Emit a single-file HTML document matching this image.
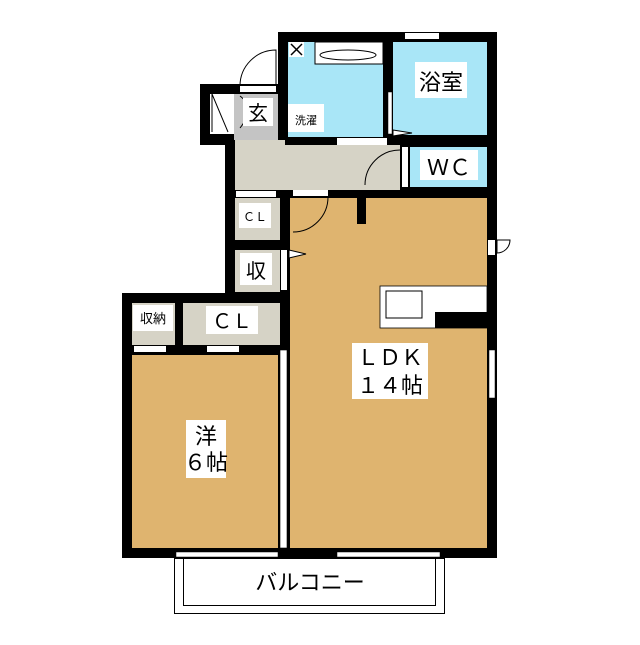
<!DOCTYPE html>
<html><head><meta charset="utf-8"><style>
html,body{margin:0;padding:0;background:#fff}
svg text{font-family:"Liberation Sans","Noto Sans CJK JP",sans-serif}
</style></head><body>
<svg width="640" height="640" viewBox="0 0 640 640" xmlns="http://www.w3.org/2000/svg">
<rect width="640" height="640" fill="#fff"/>
<!-- black wall masses -->
<rect x="278" y="32" width="219" height="113" fill="#000"/>
<rect x="200" y="84" width="80" height="61" fill="#000"/>
<rect x="225" y="138" width="272" height="420" fill="#000"/>
<rect x="122" y="293" width="168" height="265" fill="#000"/>
<rect x="225" y="138" width="10" height="162" fill="#000"/>
<!-- blue rooms -->
<rect x="288" y="42" width="95" height="95" fill="#a9e6f7"/>
<rect x="393" y="42" width="94" height="93" fill="#a9e6f7"/>
<rect x="410" y="147" width="77" height="40" fill="#a9e6f7"/>
<!-- tub -->
<rect x="315" y="42" width="68" height="22" fill="#fff" stroke="#000" stroke-width="1"/>
<ellipse cx="348" cy="55" rx="28" ry="5" fill="#fff" stroke="#000" stroke-width="1"/>
<rect x="289" y="42" width="15" height="15" fill="#fff"/>
<path d="M291 44 L302 55 M302 44 L291 55" stroke="#000" stroke-width="1.5"/>
<rect x="288" y="104" width="36" height="28" fill="#fff"/>
<text x="306" y="124" font-size="11" text-anchor="middle">洗濯</text>
<rect x="388" y="92" width="4" height="42" fill="#fff" stroke="#000" stroke-width=".5"/>
<path d="M393 130 L412 133 L393 136 Z" fill="#fff" stroke="#000" stroke-width="1"/>
<rect x="405" y="33" width="34" height="6" fill="#fff"/>
<!-- genkan -->
<rect x="210" y="94" width="24" height="40" fill="#fff"/>
<rect x="234" y="94" width="44" height="46" fill="#c4c4c4"/>
<path d="M212 94 L228 132 M212 94 L212 132 M240 96 Q256 108 240 128" stroke="#000" stroke-width="1" fill="none"/>
<rect x="243" y="98" width="30" height="28" fill="#fff"/>
<text x="258" y="120" font-size="20" text-anchor="middle">玄</text>
<rect x="240" y="86" width="36" height="6" fill="#fff"/>
<path d="M240 86 A36 36 0 0 1 276 50 L276 86" stroke="#000" stroke-width="1" fill="none"/>
<!-- hallway -->
<rect x="235" y="145" width="165" height="45" fill="#d6d3c6"/>
<rect x="235" y="140" width="50" height="6" fill="#d6d3c6"/>
<rect x="337" y="138" width="50" height="7" fill="#fff"/>
<rect x="402" y="147" width="6" height="40" fill="#fff"/>
<path d="M365 185 A35 35 0 0 1 400 150" stroke="#000" stroke-width="1" fill="none"/>
<rect x="420" y="150" width="58" height="30" fill="#fff"/>
<text x="449" y="175" font-size="22" text-anchor="middle">ＷＣ</text>
<rect x="415" y="62" width="52" height="36" fill="#fff"/>
<text x="441" y="90" font-size="22" text-anchor="middle">浴室</text>
<!-- LDK -->
<rect x="290" y="198" width="197" height="350" fill="#dfb46f"/>
<rect x="293" y="190" width="35" height="6" fill="#fff"/>
<path d="M293 232 A35 35 0 0 0 328 197" stroke="#000" stroke-width="1" fill="none"/>
<rect x="357" y="198" width="9" height="26" fill="#000"/>
<rect x="488" y="240" width="7" height="15" fill="#fff"/>
<path d="M497 240 L497 253 A13 13 0 0 0 510 240 Z" fill="none" stroke="#000" stroke-width="1"/>
<rect x="380" y="286" width="107" height="42" fill="#fff" stroke="#000" stroke-width=".8"/>
<rect x="386" y="291" width="36" height="27" fill="#fff" stroke="#000" stroke-width="1"/>
<rect x="435" y="312" width="52" height="16" fill="#000"/>
<rect x="489" y="350" width="6" height="48" fill="#fff" stroke="#000" stroke-width=".5"/>
<rect x="352" y="343" width="76" height="56" fill="#fff"/>
<text x="390" y="365" font-size="22" text-anchor="middle">ＬＤＫ</text>
<text x="390" y="393" font-size="22" text-anchor="middle">１４帖</text>
<!-- CL small, 収 -->
<rect x="235" y="198" width="45" height="42" fill="#d6d3c6"/>
<rect x="236" y="191" width="40" height="6" fill="#fff"/>
<rect x="239" y="203" width="32" height="25" fill="#fff"/>
<text x="255" y="221" font-size="12" text-anchor="middle">ＣＬ</text>
<rect x="235" y="250" width="45" height="42" fill="#d6d3c6"/>
<rect x="240" y="253" width="32" height="32" fill="#fff"/>
<text x="256" y="278" font-size="20" text-anchor="middle">収</text>
<rect x="281" y="250" width="6" height="40" fill="#fff"/>
<path d="M289 250 L306 254 L289 258 Z" fill="#fff" stroke="#000" stroke-width="1"/>
<!-- 収納, CL -->
<rect x="132" y="303" width="43" height="42" fill="#d6d3c6"/>
<rect x="133" y="305" width="40" height="26" fill="#fff"/>
<text x="153" y="323" font-size="13" text-anchor="middle">収納</text>
<rect x="183" y="303" width="97" height="42" fill="#d6d3c6"/>
<rect x="206" y="306" width="52" height="28" fill="#fff"/>
<text x="232" y="328" font-size="20" text-anchor="middle">ＣＬ</text>
<rect x="134" y="346" width="32" height="6" fill="#fff"/>
<rect x="207" y="346" width="32" height="6" fill="#fff"/>
<path d="M136 355 L138 370 L140 355 M207 355 L209 370 L211 355" fill="#fff" stroke="#000" stroke-width="1"/>
<!-- 洋 -->
<rect x="132" y="355" width="146" height="193" fill="#dfb46f"/>
<rect x="280" y="350" width="7" height="198" fill="#fff" stroke="#000" stroke-width=".6"/>
<rect x="186" y="420" width="40" height="58" fill="#fff"/>
<text x="206" y="444" font-size="22" text-anchor="middle">洋</text>
<text x="206" y="470" font-size="22" text-anchor="middle">６帖</text>
<!-- windows bottom -->
<rect x="176" y="552" width="102" height="5" fill="#fff" stroke="#000" stroke-width=".5"/>
<rect x="337" y="552" width="103" height="5" fill="#fff" stroke="#000" stroke-width=".5"/>
<!-- balcony -->
<rect x="174.5" y="558.5" width="270" height="55" fill="#fff" stroke="#000" stroke-width="1"/>
<rect x="183.5" y="558.5" width="252" height="47" fill="#fff" stroke="#000" stroke-width="1"/>
<text x="310" y="590" font-size="22" text-anchor="middle">バルコニー</text>
</svg>
</body></html>
